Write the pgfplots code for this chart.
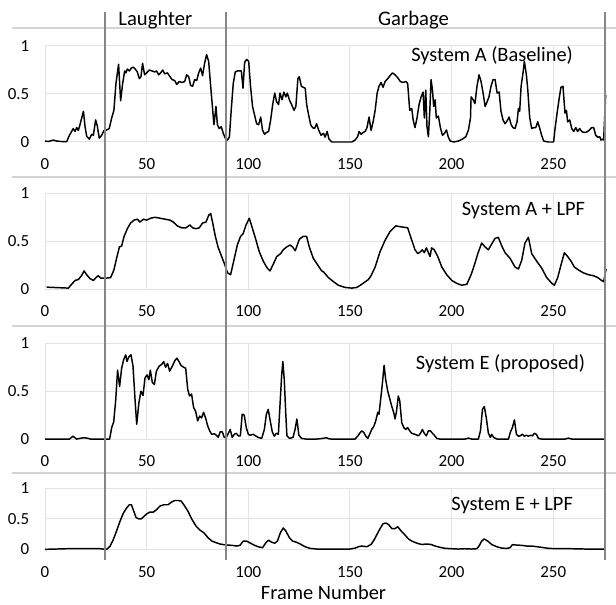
\documentclass[border=0pt]{standalone}
\usepackage{fontspec}
\setmainfont{Carlito}
\usepackage{pgfplots}
\pgfplotsset{compat=1.18}

\definecolor{gridgray}{HTML}{E3E3E3}
\definecolor{sepgray}{HTML}{868686}
\definecolor{boxgray}{HTML}{D4D4D4}

\pgfplotsset{
  panel/.style={
    scale only axis, width=420.8pt,
    xmin=0, xmax=276, ymin=0, ymax=1,
    anchor=north west, clip=false,
    axis line style={draw=none}, major tick length=0pt,
    xtick={0,50,...,250}, ytick={0,0.5,1},
    grid=major, major grid style={draw=gridgray, line width=0.75pt},
    ticklabel style={font=\fontsize{12.7}{14}\selectfont, text=black},
    xticklabel style={yshift=-9pt},
    yticklabel style={anchor=east, inner xsep=0pt, xshift=-11.6pt},
    /pgf/number format/assume math mode=true,
  },
  sig/.style={black, line width=1.1pt, no marks, line join=round},
}
\newcommand{\titlefont}{\fontsize{15.3}{17}\selectfont}

\begin{document}
\begin{tikzpicture}
\path[use as bounding box] (0,0) rectangle (462pt,-453.75pt);

% light frames between the four charts
\foreach \yy in {28,177,326,473}
  \draw[boxgray, line width=1.3pt] (9pt,-0.75*\yy pt) -- (462pt,-0.75*\yy pt);

% System A (Baseline)
\begin{axis}[panel, at={(33.75pt,-34.5pt)}, height=72pt]
\addplot[sig] coordinates {
(0,0.01)(1.6,0.005)(4.1,0.02)(5.7,0.01)(8.2,0.005)(10.7,0.005)(12,0.07)(13.1,0.11)(13.9,0.14)(14.8,0.11)(15.6,0.15)(16.4,0.12)(17.2,0.18)(18.9,0.32)(19.7,0.16)(20.5,0.06)(21.8,0.03)(23,0.08)(23.8,0.07)(24.9,0.23)(25.7,0.17)(26.7,0.04)(27.9,0.07)(29,0.12)(30.3,0.125)(31.6,0.14)(32.8,0.25)(33.9,0.33)(34.9,0.61)(36.2,0.81)(37.2,0.43)(38.2,0.61)(39.2,0.74)(39.8,0.72)(40.5,0.76)(41.5,0.74)(42.5,0.77)(43.4,0.78)(44.4,0.76)(45.4,0.73)(46.4,0.66)(47.2,0.68)(48,0.82)(49,0.7)(50,0.72)(51.3,0.75)(52.6,0.74)(53.9,0.73)(54.9,0.74)(55.9,0.7)(56.9,0.72)(57.9,0.75)(58.9,0.71)(60.2,0.72)(61.5,0.68)(62.5,0.65)(63.8,0.64)(64.8,0.6)(66.1,0.63)(67.4,0.62)(68.7,0.63)(69.7,0.7)(70.7,0.68)(71.6,0.59)(72.6,0.58)(73.6,0.65)(74.6,0.64)(75.6,0.72)(76.6,0.77)(77.5,0.69)(78.5,0.82)(79.5,0.91)(80.5,0.84)(81.5,0.58)(82.5,0.33)(83.1,0.18)(84.1,0.37)(84.8,0.18)(85.7,0.14)(86.7,0.16)(87.7,0.09)(88.7,0.04)(89.7,0.02)(90.7,0.05)(91.6,0.33)(92.6,0.61)(93.6,0.73)(94.6,0.74)(95.6,0.74)(96.6,0.74)(97.4,0.56)(98.2,0.83)(99.2,0.86)(100.2,0.84)(101.1,0.58)(102.1,0.37)(103.1,0.28)(104.1,0.19)(105.1,0.18)(106.1,0.26)(107,0.125)(108,0.08)(109,0.1)(110,0.11)(111,0.23)(112,0.39)(113,0.51)(113.9,0.42)(114.9,0.39)(115.6,0.51)(116.6,0.44)(117.5,0.52)(118.5,0.47)(119.2,0.51)(120.2,0.44)(121.3,0.39)(122.5,0.33)(123.4,0.37)(124.4,0.66)(125.1,0.68)(126.1,0.58)(127,0.57)(128,0.56)(128.7,0.39)(129.7,0.28)(130.7,0.18)(131.6,0.15)(132.6,0.14)(133.6,0.19)(134.6,0.125)(135.8,0.07)(137,0.09)(137.8,0.05)(138.8,0.11)(139.7,0.03)(141.1,0)(146,0)(150.9,0)(152.5,0.02)(153.8,0.055)(154.5,0.11)(155.5,0.08)(156.5,0.1)(157.5,0.11)(158.4,0.15)(159.4,0.26)(160.4,0.12)(161.4,0.21)(162.4,0.33)(163.4,0.51)(164.3,0.58)(165.3,0.62)(166.3,0.57)(167.3,0.63)(168.6,0.66)(169.7,0.69)(170.9,0.72)(172.2,0.7)(173.5,0.67)(174.8,0.63)(176.1,0.62)(177.5,0.63)(178.4,0.61)(179.4,0.33)(180.4,0.35)(181.1,0.23)(182,0.15)(183,0.25)(184,0.39)(185,0.47)(186,0.52)(186.6,0.25)(187.3,0.54)(187.9,0.16)(188.6,0.055)(189.3,0.33)(189.9,0.65)(190.6,0.54)(191.2,0.37)(191.9,0.44)(192.5,0.25)(193.5,0.27)(194.5,0.15)(195.5,0.07)(196.5,0.09)(197.5,0.125)(198.4,0.05)(199.4,0.01)(200.9,0)(203.4,0.01)(205.3,0.03)(207,0.055)(208.3,0.125)(209.3,0.25)(209.6,0.47)(210.6,0.44)(211.5,0.4)(212.5,0.58)(213.5,0.7)(214.5,0.63)(215.5,0.51)(216.5,0.37)(217.5,0.42)(218.4,0.47)(219.4,0.58)(220.4,0.65)(221.4,0.65)(222.4,0.51)(223.4,0.52)(224.3,0.32)(225.3,0.23)(226.3,0.19)(227.3,0.22)(228.3,0.26)(229.3,0.18)(230.2,0.15)(231.2,0.14)(232.2,0.21)(232.9,0.35)(233.5,0.32)(234.2,0.58)(235.2,0.73)(235.8,0.84)(236.8,0.7)(237.5,0.54)(238.4,0.26)(239.4,0.14)(240.4,0.15)(241.4,0.15)(242.4,0.21)(243.4,0.14)(244.3,0.07)(245.3,0.01)(247.6,0)(250.2,0)(250.9,0.14)(251.9,0.3)(252.9,0.45)(253.8,0.57)(254.8,0.58)(255.8,0.3)(256.5,0.33)(257.1,0.21)(258.1,0.23)(259.1,0.14)(260.1,0.11)(261.1,0.15)(262,0.11)(263,0.14)(264,0.11)(265,0.1)(266,0.1)(267,0.11)(268,0.13)(268.9,0.15)(269.9,0.15)(270.9,0.07)(271.9,0.05)(272.9,0.055)(273.5,0.02)(274.2,0.03)(274.8,0.02)(275.8,0.49)
};
\node[anchor=east, font=\titlefont] at (axis cs:262,0.9) {System A (Baseline)};
\node[font=\fontsize{15.5}{17}\selectfont] at (axis cs:54.3,1.27) {Laughter};
\node[font=\fontsize{15.5}{17}\selectfont] at (axis cs:181.3,1.27) {Garbage};
\end{axis}

% System A + LPF
\begin{axis}[panel, at={(33.75pt,-145pt)}, height=71.8pt]
\addplot[sig] coordinates {
(0.8,0.02)(4.1,0.017)(7.4,0.014)(11.5,0.01)(13.1,0.05)(14.8,0.09)(16.4,0.1)(18,0.14)(19.2,0.19)(20.5,0.15)(22.1,0.11)(23.8,0.09)(25.1,0.12)(26.2,0.14)(27.4,0.115)(28.7,0.115)(30.3,0.115)(32.3,0.12)(33.9,0.2)(35.2,0.32)(36.6,0.44)(37.7,0.45)(38.9,0.55)(40.5,0.63)(42.1,0.69)(43.8,0.72)(45.4,0.73)(46.7,0.7)(48.4,0.73)(50,0.72)(52,0.74)(54.1,0.75)(56.6,0.74)(59,0.73)(61.5,0.72)(63.1,0.7)(65.1,0.66)(67.2,0.64)(69.3,0.64)(71.3,0.67)(72.6,0.64)(74.3,0.63)(75.9,0.64)(77.5,0.69)(79.2,0.7)(80.5,0.77)(81.5,0.79)(82.5,0.69)(83.8,0.55)(85.1,0.44)(86.9,0.34)(88.5,0.25)(89.8,0.17)(91.3,0.15)(92.9,0.3)(94.6,0.46)(96.2,0.55)(97.5,0.58)(98.9,0.67)(100.5,0.74)(102.1,0.63)(103.8,0.51)(105.4,0.39)(107.4,0.29)(109.3,0.22)(110.7,0.19)(112.3,0.26)(114,0.34)(115.9,0.37)(117.2,0.41)(118.9,0.44)(120.5,0.46)(121.8,0.44)(123.1,0.4)(125.1,0.52)(127,0.55)(128.7,0.55)(130,0.44)(132,0.32)(133.9,0.26)(136.1,0.19)(137,0.18)(139.4,0.12)(141.9,0.077)(144.3,0.04)(147.6,0.017)(150.9,0.01)(153.4,0.017)(155.8,0.05)(159.1,0.1)(160.4,0.14)(162.4,0.23)(164.8,0.39)(167.3,0.51)(169.7,0.6)(172.5,0.66)(175.2,0.65)(178.4,0.64)(180.1,0.53)(182,0.41)(183.4,0.37)(184.7,0.39)(185.6,0.41)(186.6,0.38)(187.6,0.43)(188.6,0.38)(189.4,0.34)(190.2,0.43)(191.5,0.41)(193.2,0.34)(195.2,0.23)(197.6,0.15)(200.1,0.09)(202.5,0.06)(205,0.04)(207.5,0.05)(209.6,0.15)(211.2,0.25)(212.9,0.37)(214.8,0.48)(216.5,0.44)(218.1,0.41)(219.7,0.47)(221.4,0.53)(223,0.54)(224.7,0.45)(226.3,0.38)(228.8,0.32)(231.2,0.23)(232.9,0.21)(234.5,0.3)(236.1,0.48)(237.8,0.54)(239.4,0.37)(241.9,0.29)(244.3,0.22)(246.8,0.12)(249.3,0.06)(250.6,0.04)(252.2,0.12)(253.8,0.25)(255.5,0.38)(257.1,0.34)(258.8,0.29)(260.4,0.23)(262.4,0.2)(264.8,0.17)(267.3,0.15)(269.7,0.14)(271.9,0.12)(273.8,0.09)(274.8,0.077)(276,0.21)
};
\node[anchor=east, font=\titlefont] at (axis cs:268,0.82) {System A + LPF};
\end{axis}

% System E (proposed)
\begin{axis}[panel, at={(33.75pt,-257.5pt)}, height=71.8pt]
\addplot[sig] coordinates {
(0,0)(12,0)(13.8,0.03)(15.5,0)(17.9,0.01)(19.5,0.014)(21.2,0.007)(22.5,0)(31.8,0)(32.8,0.12)(33.8,0.18)(34.8,0.41)(35.7,0.72)(36.7,0.55)(37.7,0.74)(38.7,0.83)(39.7,0.88)(40.3,0.81)(41.3,0.86)(42.3,0.88)(43.3,0.76)(44.3,0.41)(45.1,0.155)(46.2,0.38)(47.2,0.5)(48.2,0.455)(49.2,0.64)(50.2,0.67)(51.1,0.62)(51.8,0.72)(52.8,0.59)(53.8,0.57)(54.8,0.71)(56.1,0.76)(57.4,0.78)(58.4,0.81)(59.3,0.75)(60.3,0.79)(61.3,0.71)(62.6,0.76)(63.9,0.82)(64.9,0.845)(65.9,0.81)(66.9,0.77)(68.2,0.75)(69.2,0.74)(70.2,0.52)(71.1,0.45)(72.1,0.47)(73.1,0.33)(74.1,0.29)(75.1,0.19)(76.1,0.24)(77,0.22)(78,0.28)(79,0.22)(80,0.14)(81,0.086)(82,0.05)(83.3,0.055)(84.3,0.04)(85.2,0.017)(86.2,0.076)(87.2,0.076)(88.2,0.017)(89.2,0.017)(90.2,0.06)(91.1,0.1)(92.1,0.017)(93.1,0.05)(94.1,0.06)(95.1,0.034)(96.1,0.034)(97,0.26)(98,0.25)(99,0.12)(100,0.05)(101,0.04)(102.3,0.05)(103.6,0.034)(104.9,0.017)(106.6,0.007)(107.9,0.1)(108.9,0.26)(109.8,0.31)(110.8,0.19)(111.8,0.076)(112.8,0.03)(113.8,0.06)(114.8,0.05)(115.4,0.28)(116.4,0.66)(117,0.81)(117.7,0.62)(118.4,0.28)(119,0.034)(120.3,0.007)(122,0.017)(123,0.1)(123.9,0.21)(124.9,0.04)(126.2,0.007)(128.5,0)(133.4,0)(136.7,0.007)(138.4,0.014)(139.7,0.003)(141,0)(152.5,0)(153.8,0.03)(154.8,0.06)(155.8,0.086)(156.8,0.07)(157.8,0.03)(158.8,0.007)(159.7,0.05)(160.7,0.1)(161.7,0.13)(162.7,0.19)(163.7,0.28)(164.3,0.26)(165.3,0.45)(166,0.59)(166.8,0.77)(167.6,0.62)(168.6,0.5)(169.6,0.42)(170.6,0.34)(171.5,0.28)(172.2,0.21)(172.9,0.29)(173.8,0.45)(174.5,0.4)(175.5,0.17)(176.5,0.12)(177.5,0.1)(178.4,0.12)(179.4,0.086)(180.4,0.06)(182,0.05)(183.7,0.034)(184.7,0.06)(185.6,0.1)(186.6,0.06)(187.6,0.034)(188.6,0.086)(189.6,0.086)(190.6,0.06)(191.5,0.04)(192.7,0.007)(194.3,0)(206.6,0)(208.3,0.01)(209.9,0)(213.2,0)(214.2,0.086)(215.2,0.31)(216.1,0.34)(217.1,0.22)(218.1,0.06)(219.1,0.017)(219.7,0.05)(220.7,0.017)(222.4,0)(228,0)(228.9,0.07)(229.9,0.12)(230.9,0.2)(231.9,0.05)(232.9,0.03)(233.8,0.034)(234.8,0.05)(235.8,0.03)(236.8,0.04)(237.8,0.03)(238.8,0.04)(239.8,0.034)(240.7,0.06)(241.7,0.05)(242.7,0.007)(244.3,0)(255.8,0)(257.5,0.01)(259.1,0)(275.8,0)
};
\node[anchor=east, font=\titlefont] at (axis cs:268,0.79) {System E (proposed)};
\end{axis}

% System E + LPF
\begin{axis}[panel, at={(33.75pt,-366.2pt)}, height=45.8pt]
\addplot[sig] coordinates {
(0,0)(10.7,0.01)(27,0.01)(30.3,0)(32,0.05)(33.6,0.16)(35.2,0.3)(36.9,0.46)(38.5,0.59)(40.2,0.68)(41.5,0.73)(42.5,0.73)(43.4,0.65)(44.8,0.52)(46.1,0.5)(47.4,0.5)(48.7,0.54)(50,0.58)(51.6,0.61)(53.3,0.61)(54.9,0.65)(56.6,0.71)(58.5,0.73)(60.5,0.73)(62.1,0.77)(63.8,0.8)(65.4,0.8)(67,0.79)(68.7,0.71)(70.3,0.625)(72.3,0.49)(74.3,0.38)(76.2,0.315)(78.2,0.27)(80.2,0.19)(82.1,0.135)(84.1,0.11)(86.1,0.087)(88,0.076)(90,0.07)(92,0.065)(94.3,0.054)(95.9,0.065)(97.5,0.135)(99.2,0.135)(101.1,0.1)(103.1,0.065)(105.1,0.04)(107,0.027)(108.7,0.11)(110,0.15)(111.3,0.12)(113,0.1)(114.3,0.135)(115.9,0.28)(117.2,0.35)(118.5,0.3)(120.2,0.19)(121.8,0.135)(123.4,0.12)(125.4,0.09)(127.9,0.043)(130.3,0.016)(133.6,0.005)(150,0.005)(152.5,0.02)(154.2,0.043)(155.8,0.054)(158.3,0.043)(160.4,0.08)(162,0.16)(163.7,0.27)(165,0.35)(166.3,0.42)(167.6,0.43)(168.9,0.41)(170.6,0.34)(172.2,0.34)(173.5,0.37)(175.2,0.3)(176.8,0.245)(178.8,0.17)(180.7,0.13)(183,0.1)(185.3,0.08)(187.8,0.087)(189.9,0.08)(191.9,0.054)(194.3,0.033)(196.8,0.016)(200.1,0.01)(203.4,0.005)(206.6,0.01)(209.9,0.005)(212.4,0.01)(213.5,0.054)(214.8,0.135)(216.1,0.17)(217.8,0.135)(219.7,0.08)(222.2,0.043)(224.7,0.02)(227.1,0.016)(228.8,0.027)(229.9,0.076)(232,0.07)(234.5,0.065)(237,0.054)(239.4,0.054)(241.9,0.043)(244.3,0.033)(247.6,0.016)(252.5,0.01)(259.1,0.01)(265.7,0.005)(275.8,0.005)
};
\node[anchor=east, font=\titlefont] at (axis cs:262,0.72) {System E + LPF};
\node[font=\fontsize{15.3}{17}\selectfont, inner sep=0pt] at (axis cs:137,-0.71) {Frame Number};
% segment boundaries, running through all four charts
\draw[sepgray, line width=1.5pt] (axis cs:29.7,-0.17) -- (axis cs:29.7,8.8);
\draw[sepgray, line width=1.5pt] (axis cs:88.9,-0.17) -- (axis cs:88.9,8.8);
\draw[sepgray, line width=1.5pt] (axis cs:275.3,-0.17) -- (axis cs:275.3,8.8);
\end{axis}
\end{tikzpicture}
\end{document}
